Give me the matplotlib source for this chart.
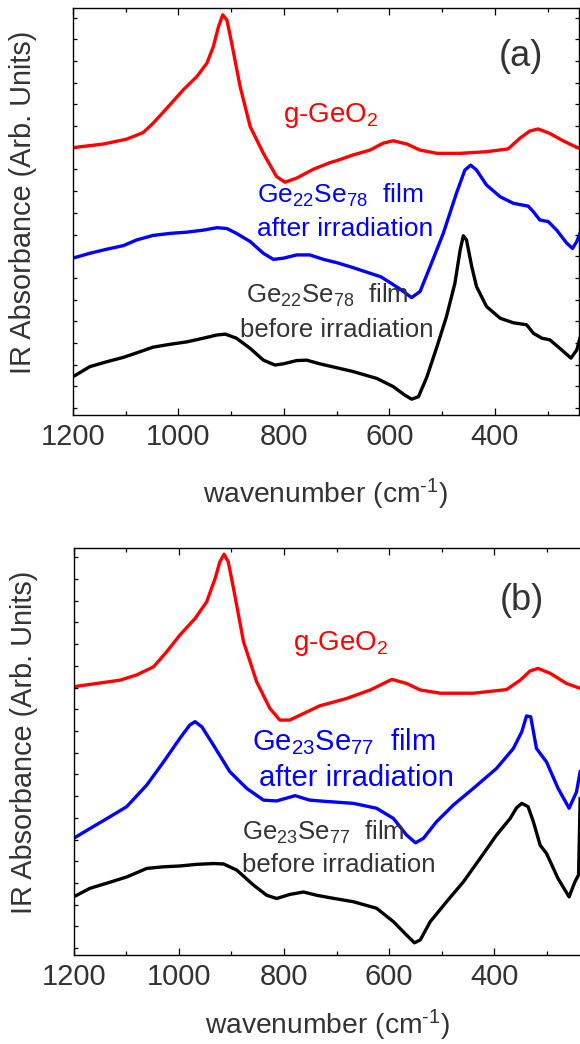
import numpy as np
import matplotlib
matplotlib.use('Agg')
import matplotlib.pyplot as plt

plt.rcParams['font.family'] = ['Liberation Sans', 'DejaVu Sans']
plt.rcParams['mathtext.fontset'] = 'custom'
plt.rcParams['mathtext.rm'] = 'Liberation Sans'
plt.rcParams['mathtext.it'] = 'Liberation Sans:italic'
plt.rcParams['mathtext.bf'] = 'Liberation Sans:bold'

# --- panel (a): Ge22Se78 ---
wn_a_red = [1200, 1142, 1098, 1067, 1048, 1022, 991, 965, 946, 934, 924, 916, 908, 899, 883, 864, 839,
            814, 798, 776, 744, 713, 700, 669, 637, 612, 593, 567, 542, 510, 466, 416, 375, 353, 334,
            318, 296, 271, 252, 239]
abs_a_red = [65.7, 66.6, 67.8, 69.4, 71.7, 75.4, 79.9, 83.2, 86.5, 90.5, 95.5, 98.4, 97.1, 91.4, 80.7, 70.9, 64.3,
             58.6, 57.2, 58.2, 60.4, 62.0, 62.5, 63.9, 65.1, 66.8, 67.4, 66.6, 65.1, 64.3, 64.3, 64.7, 65.4, 68.0, 69.8,
             70.3, 69.2, 67.4, 66.2, 65.5]

wn_a_blue = [1200, 1168, 1136, 1104, 1079, 1048, 1016, 984, 953, 927, 908, 890, 864, 839, 820, 801, 776,
             751, 725, 700, 672, 616, 581, 558, 542, 523, 498, 473, 457, 446, 435, 416, 390, 365, 337,
             327, 315, 299, 283, 264, 253, 245, 239]
abs_a_blue = [38.5, 39.7, 40.7, 41.6, 43.0, 44.1, 44.6, 44.9, 45.4, 46.0, 45.8, 44.6, 42.6, 39.7, 38.2, 38.5, 39.3,
              39.3, 38.2, 37.4, 36.3, 33.9, 31.0, 28.8, 30.3, 36.4, 44.6, 54.5, 60.2, 61.4, 60.2, 56.5, 53.6, 52.0, 51.3,
              49.9, 47.9, 47.5, 45.4, 42.2, 40.9, 42.6, 44.6]

wn_a_black = [1200, 1168, 1136, 1104, 1079, 1048, 1016, 984, 953, 927, 911, 890, 864, 839, 817, 801, 776,
              757, 732, 669, 624, 593, 571, 558, 545, 529, 510, 492, 476, 466, 460, 454, 444, 435, 416,
              390, 365, 340, 327, 311, 296, 277, 256, 245, 239]
abs_a_black = [9.3, 11.8, 13.0, 14.1, 15.2, 16.6, 17.3, 17.9, 18.8, 19.6, 19.8, 18.8, 16.3, 13.4, 12.2, 12.5, 13.3,
               13.4, 12.5, 10.6, 8.9, 6.9, 4.8, 3.8, 4.4, 9.3, 16.7, 24.1, 32.3, 40.5, 44.0, 43.0, 36.4, 31.5, 26.6,
               23.7, 22.6, 22.1, 20.0, 18.8, 18.4, 16.3, 13.9, 15.9, 18.8]

# --- panel (b): Ge23Se77 ---
wn_b_red = [1200, 1156, 1112, 1080, 1048, 1023, 998, 969, 947, 931, 922, 914, 906, 896, 877, 852, 827,
            808, 789, 763, 732, 681, 636, 595, 567, 541, 503, 440, 377, 351, 332, 317, 294, 263, 237]
abs_b_red = [65.9, 66.7, 67.5, 68.8, 70.8, 74.5, 78.6, 82.7, 86.8, 92.5, 96.6, 98.5, 96.6, 90.1, 77.0, 67.1, 60.6,
             57.7, 57.7, 59.3, 61.2, 63.0, 65.1, 67.7, 66.7, 65.1, 64.3, 64.3, 65.2, 67.5, 69.8, 70.4, 69.2, 66.7, 65.5]

wn_b_blue = [1200, 1169, 1131, 1099, 1061, 1029, 998, 979, 969, 956, 934, 903, 871, 839, 814, 779, 751,
             722, 668, 624, 592, 567, 550, 535, 510, 478, 440, 396, 364, 348, 339, 331, 320, 301, 279,
             258, 244, 237]
abs_b_blue = [28.6, 31.0, 33.9, 36.4, 41.7, 47.4, 53.2, 56.5, 57.3, 56.0, 51.5, 45.0, 40.9, 38.0, 37.8, 39.1, 38.0,
              37.7, 37.2, 36.0, 33.5, 29.4, 27.5, 28.6, 32.7, 36.8, 40.9, 45.8, 50.7, 54.8, 58.7, 58.5, 50.7, 47.4, 40.9,
              36.0, 40.0, 45.0]

wn_b_black = [1200, 1169, 1131, 1099, 1061, 1029, 998, 966, 934, 915, 890, 858, 833, 814, 789, 763, 738,
              713, 668, 624, 592, 567, 552, 541, 522, 491, 459, 427, 396, 370, 358, 348, 336, 326, 313,
              301, 279, 258, 247, 240, 237]
abs_b_black = [14.2, 16.3, 17.8, 19.1, 21.2, 21.6, 21.8, 22.2, 22.4, 22.3, 20.8, 17.1, 14.6, 13.8, 14.8, 15.4, 14.6,
               14.0, 13.0, 11.4, 8.1, 4.8, 2.9, 3.6, 8.1, 13.0, 17.9, 23.7, 29.4, 33.5, 36.1, 37.2, 36.4, 32.7, 26.9,
               24.9, 18.7, 14.2, 17.9, 19.6, 38.4]

txt = '#333333'
lw = 2.4

fig = plt.figure(figsize=(5.8, 10.44), dpi=100)
ax_a = fig.add_axes([72.9 / 580, 1 - 414.6 / 1044, 505.6 / 580, 406.3 / 1044])
ax_b = fig.add_axes([73.6 / 580, 1 - 954.6 / 1044, 507.4 / 580, 406.5 / 1044])


def style_axis(ax, right, right_ticks=True):
    ax.set_xlim(1200, right)
    ax.set_ylim(0, 100)
    ax.set_xticks([1200, 1000, 800, 600, 400])
    ax.set_xticks(np.arange(1100, right, -200), minor=True)
    ax.set_yticks(np.arange(1.6, 100, 5.34))
    ax.set_yticklabels([])
    ax.tick_params(which='both', direction='in', top=True, right=right_ticks, colors='black',
                   labelcolor=txt, labelsize=21, pad=6, width=0.9)
    ax.tick_params(which='major', axis='x', length=5)
    ax.tick_params(which='minor', axis='x', length=3)
    ax.tick_params(axis='y', length=3)
    for s in ax.spines.values():
        s.set_linewidth(1.0)
    ax.set_xlabel(r'wavenumber (cm$^{\text{-}1}$)', fontsize=20.3, color=txt)
    ax.xaxis.label.set_va('top')
    ax.set_ylabel('IR Absorbance (Arb. Units)', fontsize=20.8, color=txt)
    ax.yaxis.set_label_coords(-0.071, 0.522)


# panel (a)
ax_a.plot(wn_a_red, abs_a_red, color='#ff0000', lw=lw, solid_joinstyle='round')
ax_a.plot(wn_a_blue, abs_a_blue, color='#0000ff', lw=lw, solid_joinstyle='round')
ax_a.plot(wn_a_black, abs_a_black, color='black', lw=lw, solid_joinstyle='round')
style_axis(ax_a, 241.7)
ax_a.xaxis.set_label_coords(0.5, -0.152)
ax_a.text(350, 88.2, '(a)', fontsize=26, color=txt, ha='center', va='center')
ax_a.text(711, 73.5, 'g-GeO$_2$', fontsize=20, color='#ff0000', ha='center', va='center')
ax_a.text(852, 53.9, 'Ge$_{22}$Se$_{78}$  film', fontsize=19, color='#0000ff', ha='left', va='center')
ax_a.text(852, 45.7, 'after irradiation', fontsize=19, color='#0000ff', ha='left', va='center')
ax_a.text(872, 29.4, 'Ge$_{22}$Se$_{78}$  film', fontsize=18.5, color=txt, ha='left', va='center')
ax_a.text(884, 20.8, 'before irradiation', fontsize=18.5, color=txt, ha='left', va='center')

# panel (b)
ax_b.plot(wn_b_red, abs_b_red, color='#ff0000', lw=lw, solid_joinstyle='round')
ax_b.plot(wn_b_blue, abs_b_blue, color='#0000ff', lw=lw, solid_joinstyle='round')
ax_b.plot(wn_b_black, abs_b_black, color='black', lw=lw, solid_joinstyle='round')
style_axis(ax_b, 235.4, right_ticks=False)
ax_b.xaxis.set_label_coords(0.5, -0.132)
ax_b.text(347, 87.2, '(b)', fontsize=26, color=txt, ha='center', va='center')
ax_b.text(692, 76.5, 'g-GeO$_2$', fontsize=20, color='#ff0000', ha='center', va='center')
ax_b.text(861, 52.5, 'Ge$_{23}$Se$_{77}$  film', fontsize=21, color='#0000ff', ha='left', va='center')
ax_b.text(847, 43.5, 'after irradiation', fontsize=21, color='#0000ff', ha='left', va='center')
ax_b.text(879, 30.1, 'Ge$_{23}$Se$_{77}$  film', fontsize=18.5, color=txt, ha='left', va='center')
ax_b.text(879, 22.0, 'before irradiation', fontsize=18.5, color=txt, ha='left', va='center')

fig.savefig('out.png', dpi=100)
